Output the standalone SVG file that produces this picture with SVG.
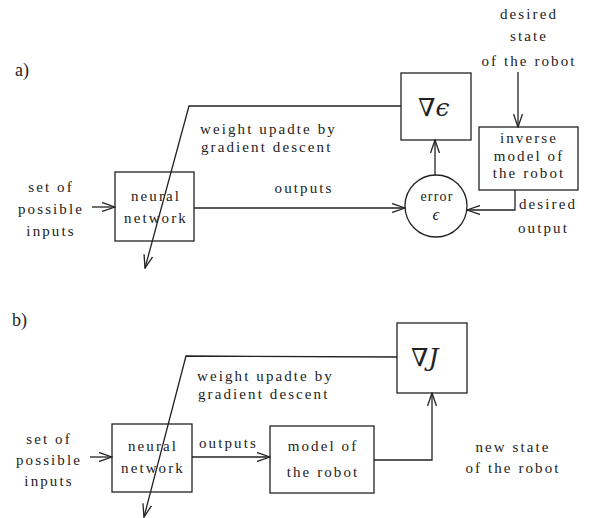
<svg xmlns="http://www.w3.org/2000/svg" width="597" height="518" viewBox="0 0 597 518">
<defs>
<marker id="arr" viewBox="0 0 14 10" refX="13" refY="5" markerWidth="14" markerHeight="10" markerUnits="userSpaceOnUse" orient="auto">
<path d="M0,0.5 L13,5 L0,9.5" fill="none" stroke="#222" stroke-width="1.3"/>
</marker>
</defs>
<style>
text{font-family:"Liberation Serif","DejaVu Serif",serif;font-size:15px;fill:#222;letter-spacing:2.1px}
.c{text-anchor:middle}
.box{fill:none;stroke:#222;stroke-width:1.3}
.ln{fill:none;stroke:#222;stroke-width:1.3}
.big{font-size:25px;letter-spacing:0;font-family:"DejaVu Serif","Liberation Serif",serif}
.lab{font-size:18px;letter-spacing:0}
</style>
<rect width="597" height="518" fill="#fff"/>

<text class="lab" x="15" y="76">a)</text>
<text class="lab" x="12" y="326">b)</text>

<g id="connectors">
<path class="ln" d="M401,106 L189,106 L145,268" marker-end="url(#arr)"/>
<path class="ln" d="M92,207 L115,207" marker-end="url(#arr)"/>
<path class="ln" d="M194,208 L405,208" marker-end="url(#arr)"/>
<path class="ln" d="M435,175 L435,140" marker-end="url(#arr)"/>
<path class="ln" d="M518,72 L518,127" marker-end="url(#arr)"/>
<path class="ln" d="M515,190 L515,210 L467,210" marker-end="url(#arr)"/>

<path class="ln" d="M397,357 L186,356 L144,517" marker-end="url(#arr)"/>
<path class="ln" d="M90,457 L112,457" marker-end="url(#arr)"/>
<path class="ln" d="M192,457 L270,457" marker-end="url(#arr)"/>
<path class="ln" d="M374,460 L432,460 L432,393" marker-end="url(#arr)"/>
</g>

<g id="a-inputs">
<text class="c" x="51" y="192">set of</text>
<text class="c" x="51" y="214">possible</text>
<text class="c" x="51" y="236">inputs</text>
</g>
<g id="a-nn">
<rect class="box" x="115" y="172" width="79" height="69"/>
<text class="c" x="156" y="201">neural</text>
<text class="c" x="156" y="223">network</text>
</g>
<g id="a-outputs-label">
<text class="c" x="304" y="193">outputs</text>
</g>
<g id="a-weight-label">
<text x="200" y="134">weight upadte by</text>
<text x="201" y="152">gradient descent</text>
</g>
<g id="a-grad">
<rect class="box" x="401" y="73" width="70" height="67"/>
<text class="big" x="418" y="116">∇<tspan font-style="italic">ϵ</tspan></text>
</g>
<g id="a-error">
<circle class="box" cx="436" cy="206" r="31"/>
<text class="c" x="437" y="201" style="font-size:14px;letter-spacing:1.2px">error</text>
<text class="c" x="436" y="220" style="font-size:17px;font-style:italic;letter-spacing:0">ϵ</text>
</g>
<g id="a-desired-state">
<text class="c" x="529" y="19">desired</text>
<text class="c" x="529" y="41">state</text>
<text class="c" x="529" y="66">of the robot</text>
</g>
<g id="a-inverse">
<rect class="box" x="479" y="127" width="99" height="63"/>
<text class="c" x="529" y="143">inverse</text>
<text class="c" x="529" y="161">model of</text>
<text class="c" x="529" y="178">the robot</text>
</g>
<g id="a-desired-output">
<text x="519" y="209">desired</text>
<text x="518" y="233">output</text>
</g>

<g id="b-inputs">
<text class="c" x="49" y="444">set of</text>
<text class="c" x="49" y="465">possible</text>
<text class="c" x="49" y="486">inputs</text>
</g>
<g id="b-nn">
<rect class="box" x="112" y="424" width="80" height="68"/>
<text class="c" x="153" y="451">neural</text>
<text class="c" x="153" y="473">network</text>
</g>
<g id="b-outputs-label">
<text x="199" y="448">outputs</text>
</g>
<g id="b-weight-label">
<text x="197" y="381">weight upadte by</text>
<text x="198" y="399">gradient descent</text>
</g>
<g id="b-model">
<rect class="box" x="270" y="426" width="104" height="67"/>
<text class="c" x="323" y="451">model of</text>
<text class="c" x="323" y="477">the robot</text>
</g>
<g id="b-grad">
<rect class="box" x="397" y="323" width="70" height="70"/>
<text class="big" x="411" y="366">∇<tspan font-style="italic">J</tspan></text>
</g>
<g id="b-new-state">
<text class="c" x="513" y="452">new state</text>
<text class="c" x="513" y="473">of the robot</text>
</g>
</svg>
